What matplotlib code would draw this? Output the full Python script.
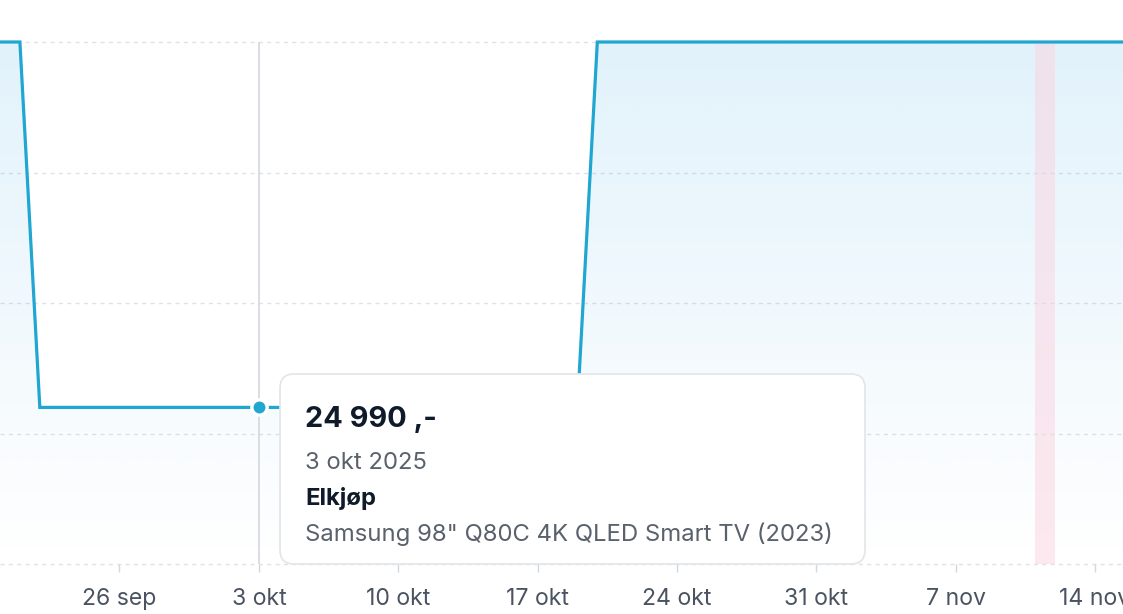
import numpy as np
import matplotlib
matplotlib.use("Agg")
import matplotlib.pyplot as plt
import matplotlib.dates as mdates
from matplotlib.patches import FancyBboxPatch

# prisendringer (lineær mellom punktene)
dates = np.array(['2025-09-20', '2025-09-21', '2025-09-22', '2025-10-19',
                  '2025-10-20', '2025-11-16'], dtype='datetime64[D]')
prices = [38990, 38990, 24990, 24990, 38990, 38990]

grid_vals = [18990, 23990, 28990, 33990, 38990]
tick_dates = np.array(['2025-09-26', '2025-10-03', '2025-10-10', '2025-10-17',
                       '2025-10-24', '2025-10-31', '2025-11-07', '2025-11-14'],
                      dtype='datetime64[D]')
tick_labels = ['26 sep', '3 okt', '10 okt', '17 okt', '24 okt', '31 okt', '7 nov', '14 nov']

hover_date = np.datetime64('2025-10-03')
hover_price = 24990
band = (np.datetime64('2025-11-11'), np.datetime64('2025-11-12'))

tip_price = '24 990 ,-'
tip_date = '3 okt 2025'
tip_shop = 'Elkjøp'
tip_product = 'Samsung 98" Q80C 4K QLED Smart TV (2023)'

plt.rcParams['font.family'] = ['Inter', 'DejaVu Sans']

W, H = 1123, 614
fig = plt.figure(figsize=(W / 100, H / 100), dpi=100, facecolor='white')
ax = fig.add_axes([0, (H - 564) / H, 1, (564 - 42) / H])

xmin = np.datetime64('2025-09-20T00:00')
xmax = np.datetime64('2025-11-15T09:40')
ax.set_xlim(xmin, xmax)
ax.set_ylim(grid_vals[0], grid_vals[-1])

line_col = '#1fa6d1'

# gradient under the line
poly = ax.fill_between(dates, prices, grid_vals[0], color='none', lw=0)
grad = np.zeros((256, 1, 4))
grad[:, 0, :3] = matplotlib.colors.to_rgb('#2ba3e6')
grad[:, 0, 3] = np.linspace(0.14, 0.0, 256)
im = ax.imshow(grad, aspect='auto', origin='upper',
               extent=[mdates.date2num(xmin), mdates.date2num(xmax), grid_vals[0], grid_vals[-1]],
               zorder=1)
im.set_clip_path(poly.get_paths()[0], ax.transData)

for v in grid_vals:
    ax.axhline(v, color='#dfe2e6', lw=1.0, dashes=(3, 3), zorder=0.5, clip_on=False)

ax.axvspan(band[0], band[1], color='#fbd3e0', alpha=0.5, lw=0, zorder=1.5)

ax.axvline(hover_date, color='#d3d7dc', lw=1.2, zorder=1.8)

ax.plot(dates, prices, color=line_col, lw=2.3, zorder=3, clip_on=False,
        solid_joinstyle='miter')
ax.plot([hover_date], [hover_price], 'o', ms=11, color=line_col,
        mec='white', mew=2.4, zorder=4)

for s in ax.spines.values():
    s.set_visible(False)
ax.set_yticks([])
ax.set_xticks(tick_dates)
ax.set_xticklabels(tick_labels)
ax.tick_params(axis='x', length=6, width=1, color='#d3d7dc', pad=11,
               labelsize=16.6, labelcolor='#4a5361')

# tooltip
def px(x, y):
    return x, H - y

x0, y0, x1, y1 = 280, 374, 865, 564
box = FancyBboxPatch(px(x0, y1), x1 - x0, y1 - y0,
                     boxstyle='round,pad=0,rounding_size=14',
                     transform=None, facecolor='white', edgecolor='#e2e5e9',
                     lw=1.2, zorder=10)
fig.add_artist(box)
fig.text(305 / W, (H - 427) / H, tip_price, fontsize=20.8, fontweight='bold',
         color='#0f1a2b', va='baseline', zorder=11)
fig.text(305 / W, (H - 469) / H, tip_date, fontsize=17.2,
         color='#59616c', va='baseline', zorder=11)
fig.text(305 / W, (H - 505) / H, tip_shop, fontsize=17.2, fontweight='bold',
         color='#0f1a2b', va='baseline', zorder=11)
fig.text(305 / W, (H - 541) / H, tip_product, fontsize=17.2,
         color='#59616c', va='baseline', zorder=11)

fig.savefig('out.png', dpi=100, facecolor='white')
